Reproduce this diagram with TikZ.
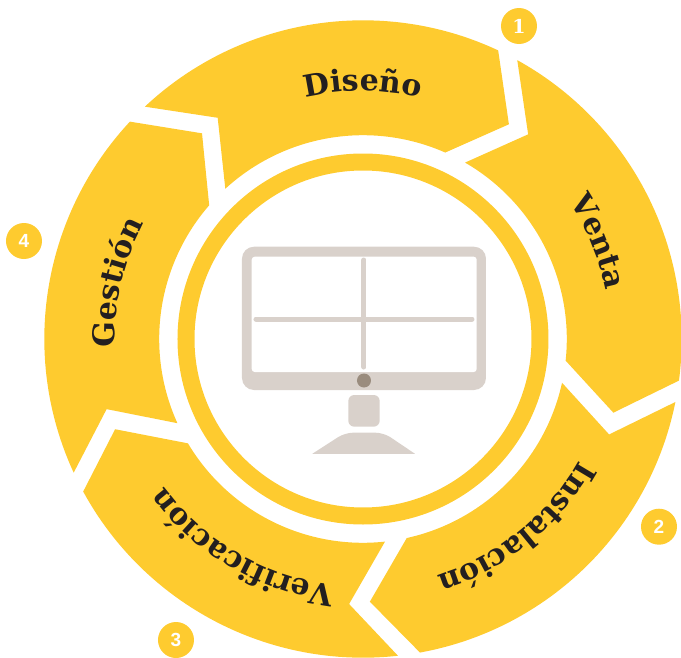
\documentclass[tikz,border=0pt]{standalone}
\usepackage{fontspec}
\setmainfont{Liberation Sans}
\newfontfamily\slabfont{DejaVu Serif}
\usetikzlibrary{decorations.text}
\definecolor{petalyellow}{HTML}{FECB2F}
\definecolor{deskgrey}{HTML}{D9D1CB}
\definecolor{buttongrey}{HTML}{9A8C7E}
\definecolor{labelblack}{HTML}{231F20}
\tikzset{
  petal/.style = {fill = petalyellow},
  desk/.style = {fill = deskgrey},
  badge/.style = {shape = circle, fill = petalyellow, text = white, minimum size = 36pt,
                  inner sep = 0pt, font = \fontsize{19}{19}\selectfont\bfseries},
  screenline/.style = {draw = deskgrey, line width = 5pt, line cap = round}
}
\newcommand{\Router}{318.7}
\newcommand{\Rinner}{203.8}
\newcommand{\Rtext}{248}
\begin{document}
\begin{tikzpicture}[x = 1pt, y = 1pt]
  \useasboundingbox (-363,-318) rectangle (318,339);
  \foreach \start/\stop/\tipang/\tiprad/\ina/\inb/\nang/\nrad in
    {133.2/64.9/55.8/259.6/66.2/132.5/123.3/264.7,
     61.05/-7.5/-16.4/261/-6.1/59.95/51.1/263,
     -11.4/-79.7/-88.5/262.8/-77.6/-12.4/-21.2/264,
     -83.7/-151.4/-160/263.8/-149.2/-83.8/-93/265.4,
     204.8/137/128.05/261.2/139/204.4/195.3/265.8}
  {
    \fill[petal] (\start:\Router) arc[start angle = \start, end angle = \stop, radius = \Router]
      -- (\tipang:\tiprad) -- (\ina:\Rinner)
      arc[start angle = \ina, end angle = \inb, radius = \Rinner]
      -- (\nang:\nrad) -- cycle;
  }
  \draw[petalyellow, line width = 17pt] (0,0) circle[radius = 177];
  \foreach \mid/\word in {90/Diseño, 22.5/Venta, -51/Instalación, -120/Verificación, 167/Gestión}
  {
    \path[decorate, decoration = {text along path, text align = center,
        text = {|\slabfont\bfseries\fontsize{30}{30}\selectfont\color{labelblack}|\word}}]
      (\mid+55:\Rtext) arc[start angle = \mid+55, end angle = \mid-55, radius = \Rtext];
  }
  \fill[desk, rounded corners = 12pt] (-121,92.3) rectangle (123,-51);
  \fill[white, rounded corners = 3pt] (-111.3,82.3) rectangle (113.7,-33);
  \draw[screenline] (1,79) -- (1,-28);
  \draw[screenline] (-107,20) -- (109,20);
  \fill[buttongrey] (1,-41.5) circle[radius = 7];
  \fill[desk, rounded corners = 6pt] (-14.7,-56) rectangle (16.7,-87.7);
  \fill[desk] (-50.7,-114.8) [rounded corners = 8pt] -- (-18,-93.7) -- (20.7,-93.7)
    [sharp corners] -- (52,-114.8) -- cycle;
  \node[badge] (one) at (156,313) {\slabfont 1};
  \node[badge] (two) at (296,-187.7) {2};
  \node[badge] (three) at (-187,-301) {3};
  \node[badge] (four) at (-339,98) {4};
\end{tikzpicture}
\end{document}
